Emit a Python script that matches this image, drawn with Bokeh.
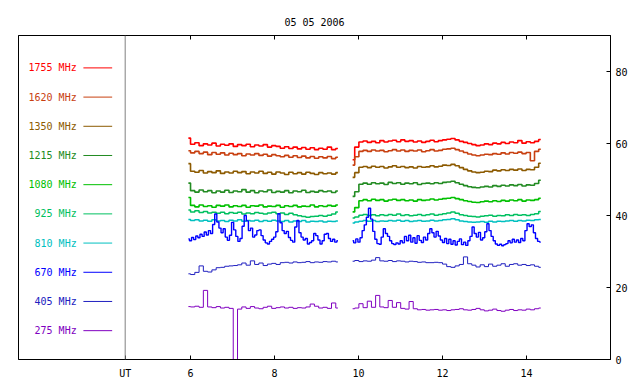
from bokeh.plotting import figure
from bokeh.models import Range1d, LinearAxis, FixedTicker, Span, ColumnDataSource
from bokeh.core.properties import value
from bokeh.embed import file_html
from bokeh.resources import INLINE
import numpy as np

# ---------------- data ----------------
title_text = "05 05 2006"
freq_labels = ["1755 MHz", "1620 MHz", "1350 MHz", "1215 MHz", "1080 MHz",
               "925 MHz", "810 MHz", "670 MHz", "405 MHz", "275 MHz"]
colors = ["#ff0000", "#c84010", "#8c5a00", "#228b22", "#00c000",
          "#00c060", "#00c0c0", "#0000ff", "#2020c0", "#8000c0"]

seg1_start, seg1_end = 5.95, 9.51
seg2_start, seg2_end = 9.86, 14.34

x_ticks = [6, 8, 10, 12, 14]
y_ticks = [0, 20, 40, 60, 80]
ut_pos = 4.445

s1755_a = [61.5, 59.8, 60.2, 59.4, 59.9, 59.6, 60.1, 59.3, 59.8, 59.5, 59.9, 59.2, 59.7, 59.4, 59.8, 59.1, 59.6, 59.3,
           59.7, 59.0, 59.4, 59.2, 58.7, 59.1, 58.6, 59.0, 58.5, 58.9, 58.4, 58.8, 58.3, 58.7, 58.4, 59.0, 58.3, 58.6]
s1755_b = [55.5, 59.0, 60.4, 60.7, 60.3, 60.6, 60.2, 60.8, 60.4, 60.7, 60.9, 60.5, 61.0, 60.6, 60.8, 60.4, 60.7, 60.3,
           60.6, 60.9, 60.5, 60.8, 61.0, 61.2, 61.4, 61.0, 60.6, 60.3, 60.0, 59.7, 59.4, 59.6, 59.9, 59.7, 60.1, 59.9,
           60.3, 60.0, 60.4, 60.2, 60.8, 60.1, 60.5, 60.2, 60.6, 61.1]

s1620_a = [58.0, 57.4, 57.8, 57.2, 57.6, 56.9, 57.5, 57.0, 57.4, 56.8, 57.3, 56.9, 57.2, 56.6, 57.1, 56.8, 57.2, 56.7,
           57.0, 56.5, 56.9, 56.6, 56.3, 56.7, 56.2, 56.6, 56.1, 56.5, 56.0, 56.4, 55.9, 56.3, 56.0, 56.4, 55.8, 56.2]
s1620_b = [54.0, 56.3, 57.8, 58.1, 57.8, 58.2, 57.9, 58.1, 57.7, 58.0, 58.3, 57.9, 58.2, 57.8, 58.1, 57.9, 58.2, 57.7,
           58.0, 58.3, 57.9, 58.1, 58.4, 58.5, 58.7, 58.3, 57.9, 57.5, 57.1, 56.8, 56.6, 56.8, 57.0, 56.9, 57.2, 57.0,
           57.4, 57.1, 57.5, 57.3, 57.6, 57.2, 57.5, 55.2, 57.8, 58.4]

s1350_a = [54.4, 52.3, 52.0, 52.5, 51.8, 52.2, 51.9, 52.4, 51.7, 52.1, 51.8, 52.3, 51.9, 52.2, 51.6, 52.1, 51.8, 52.3,
           51.7, 52.0, 51.5, 52.1, 51.8, 51.4, 52.0, 51.6, 51.9, 51.5, 52.0, 51.7, 51.4, 51.9, 51.6, 51.8, 51.5, 51.9]
s1350_b = [50.6, 51.9, 53.4, 53.6, 53.3, 53.7, 53.4, 53.6, 53.2, 53.5, 53.8, 53.4, 53.6, 53.3, 53.5, 53.2, 53.6, 53.4,
           53.5, 53.8, 53.5, 53.7, 54.0, 53.9, 54.2, 53.8, 53.3, 52.8, 52.4, 52.1, 51.9, 52.0, 52.3, 52.2, 52.6, 52.4,
           52.7, 52.5, 52.8, 52.6, 52.9, 52.5, 52.8, 52.7, 53.4, 54.5]

s1215_a = [49.0, 46.9, 46.5, 47.1, 46.6, 46.9, 46.3, 46.8, 46.5, 47.0, 46.4, 46.8, 46.6, 47.2, 46.5, 46.9, 46.3, 46.8,
           46.6, 47.1, 46.4, 46.7, 46.5, 46.9, 46.3, 46.8, 46.6, 47.0, 46.4, 46.7, 46.5, 46.9, 46.6, 46.8, 46.4, 46.8]
s1215_b = [45.3, 46.6, 48.7, 49.0, 48.7, 49.1, 48.8, 49.0, 48.6, 49.2, 48.9, 49.1, 48.7, 49.0, 48.8, 49.1, 48.6, 48.9,
           49.0, 48.8, 49.1, 48.9, 49.2, 49.3, 49.5, 49.1, 48.7, 48.3, 48.0, 47.8, 47.7, 47.9, 48.1, 47.9, 48.3, 48.1,
           48.4, 48.2, 48.5, 48.3, 48.6, 48.2, 48.5, 48.4, 48.9, 49.8]

s1080_a = [45.0, 42.8, 42.4, 42.9, 42.5, 42.7, 42.3, 42.8, 42.6, 42.9, 42.4, 42.7, 42.5, 42.8, 42.3, 42.7, 42.6, 42.9,
           42.4, 42.6, 42.5, 42.8, 42.3, 42.7, 42.5, 42.8, 42.4, 42.6, 42.5, 42.9, 42.4, 42.7, 42.5, 42.8, 42.6, 42.9]
s1080_b = [41.0, 42.2, 44.1, 44.4, 44.1, 44.5, 44.2, 44.4, 44.0, 44.3, 44.5, 44.2, 44.4, 44.1, 44.3, 44.0, 44.4, 44.2,
           44.3, 44.6, 44.3, 44.5, 44.7, 44.8, 45.0, 44.7, 44.4, 44.1, 43.9, 43.7, 43.6, 43.8, 44.0, 43.8, 44.1, 43.9,
           44.2, 44.0, 44.3, 44.1, 44.4, 44.0, 44.3, 44.2, 44.4, 44.8]

s925_a = [41.5, 41.0, 41.3, 40.8, 41.1, 40.7, 40.9, 40.6, 40.9, 40.5, 40.8, 40.6, 40.9, 40.4, 40.7, 40.5, 40.8, 40.6,
          40.4, 40.7, 40.9, 40.5, 40.7, 40.3, 40.6, 40.2, 39.9, 39.7, 39.5, 39.7, 39.8, 40.0, 39.8, 40.1, 40.4, 41.0]
s925_b = [39.3, 39.6, 40.1, 40.3, 40.0, 40.2, 39.9, 40.2, 40.0, 40.3, 40.1, 40.4, 40.0, 40.2, 39.9, 40.1, 40.3, 40.0,
          40.2, 40.4, 40.1, 40.3, 40.5, 40.7, 41.0, 40.6, 40.2, 40.0, 39.8, 39.7, 39.6, 39.8, 39.9, 40.1, 39.8, 40.0,
          39.9, 40.2, 40.0, 40.3, 40.1, 40.2, 40.0, 40.3, 40.5, 41.1]

s810_a = [38.9, 38.6, 38.8, 38.5, 38.7, 38.4, 38.8, 38.5, 38.6, 38.3, 38.7, 38.5, 38.8, 38.4, 38.6, 38.5, 38.7, 38.3,
          38.6, 38.4, 38.7, 38.5, 38.3, 38.6, 38.2, 38.5, 38.3, 38.6, 38.2, 38.4, 38.3, 38.5, 38.2, 38.4, 38.3, 38.5]
s810_b = [37.9, 38.2, 38.4, 38.6, 38.4, 38.6, 38.3, 38.5, 38.4, 38.6, 38.5, 38.7, 38.4, 38.6, 38.3, 38.5, 38.6, 38.4,
          38.5, 38.7, 38.5, 38.6, 38.8, 38.9, 39.1, 38.8, 38.5, 38.3, 38.2, 38.1, 38.2, 38.3, 38.1, 38.4, 38.2, 38.4,
          38.3, 38.5, 38.6, 38.4, 38.6, 38.5, 38.7, 38.6, 38.8, 38.9]

s670_a = [33.5, 33.0, 33.9, 33.3, 34.3, 33.8, 34.8, 34.2, 35.4, 34.6, 35.8, 35.0, 37.5, 40.4, 38.2, 36.5, 35.2, 36.3,
          34.0, 33.1, 34.5, 38.1, 36.0, 34.2, 32.8, 33.6, 37.0, 40.0, 38.5, 35.8, 36.5, 34.0, 34.6, 35.8, 36.0, 34.4,
          33.2, 32.4, 32.1, 32.8, 33.4, 34.0, 35.5, 40.5, 38.0, 35.8, 35.0, 35.6, 33.9, 33.1, 32.6, 36.8, 38.6, 35.2,
          34.0, 33.2, 33.6, 32.1, 32.5, 33.0, 35.0, 34.4, 33.2, 32.1, 33.0, 34.8, 35.0, 33.6, 32.8, 33.4, 32.6, 33.0]
s670_b = [33.0, 32.4, 33.5, 32.6, 33.8, 35.8, 37.4, 39.5, 42.0, 39.0, 35.6, 33.4, 32.2, 32.0, 34.0, 36.3, 35.0, 34.2,
          33.0, 32.2, 31.9, 32.4, 32.1, 33.0, 32.4, 34.2, 33.0, 34.5, 32.6, 33.8, 32.3, 34.4, 33.1, 32.5, 34.0, 33.2,
          35.0, 36.3, 35.2, 34.0, 35.6, 34.3, 33.2, 32.5, 33.6, 32.2, 33.4, 32.0, 33.0, 31.8, 32.8, 33.5, 31.9, 32.6,
          31.7, 33.0, 34.2, 36.8, 35.0, 34.0, 35.3, 33.2, 33.8, 35.5, 37.7, 35.8, 34.2, 33.0, 32.1, 31.7, 32.0, 31.6,
          31.9, 32.2, 33.0, 32.4, 33.4, 32.6, 33.2, 32.5, 33.6, 33.0, 35.8, 37.7, 36.9, 37.4, 35.2, 33.6, 32.8, 32.6]

s405_a = [23.8, 23.6, 24.2, 26.0, 24.5, 24.3, 24.9, 25.5, 25.6, 25.9, 26.0, 26.1, 26.3, 26.8, 26.2, 27.4, 26.4, 26.8,
          26.1, 26.5, 26.7, 26.4, 26.9, 27.0, 26.8, 27.1, 26.9, 27.0, 27.2, 26.9, 27.1, 27.0, 27.2, 27.1, 27.3, 27.1]
s405_b = [27.3, 27.5, 27.2, 27.4, 27.3, 27.6, 28.3, 27.4, 27.3, 27.5, 27.2, 27.4, 27.3, 27.1, 27.3, 27.2, 27.0, 27.1,
          26.9, 26.9, 27.0, 26.9, 26.5, 25.8, 25.6, 26.0, 26.4, 28.5, 26.6, 26.2, 25.7, 26.3, 25.8, 26.5, 25.9, 26.2,
          26.6, 25.9, 26.4, 26.6, 26.2, 26.4, 26.1, 26.3, 25.9, 25.6]

s275_a = [14.7, 14.6, 14.8, 14.5, 19.2, 14.6, 14.4, 14.7, 14.3, 14.5, 14.2, -2.0, 14.0, 14.6, 14.2, 14.7, 14.3, 14.1,
          14.5, 14.8, 14.2, 14.4, 14.6, 14.3, 14.5, 14.2, 14.4, 14.3, 14.6, 15.4, 14.8, 14.3, 14.5, 14.2, 15.7, 14.3]
s275_b = [14.1, 14.3, 15.5, 14.4, 16.2, 14.5, 17.8, 14.6, 14.4, 16.4, 14.5, 15.8, 14.2, 14.0, 16.1, 14.1, 13.8, 13.9,
          13.7, 13.8, 13.9, 13.7, 13.8, 13.6, 13.8, 13.9, 14.1, 13.8, 13.7, 13.9, 14.2, 13.8, 13.5, 13.7, 14.0, 13.6,
          13.4, 13.7, 13.9, 13.6, 13.8, 13.7, 14.0, 13.8, 14.1, 14.3]

series_a = [s1755_a, s1620_a, s1350_a, s1215_a, s1080_a, s925_a, s810_a, s670_a, s405_a, s275_a]
series_b = [s1755_b, s1620_b, s1350_b, s1215_b, s1080_b, s925_b, s810_b, s670_b, s405_b, s275_b]

# ---------------- layout / style constants ----------------
FONT = "DejaVu Sans Mono"
X0, X1 = 1.905, 16.0
Y0, Y1 = 0.0, 90.0
legend_top, legend_step = 81.0, 8.11
legend_text_x = 3.29
legend_line_x0, legend_line_x1 = 3.45, 4.135
widths = [1.6, 1.6, 1.6, 1.6, 1.6, 1.5, 1.5, 1.4, 1.0, 1.0]

p = figure(x_range=Range1d(X0, X1), y_range=Range1d(Y0, Y1),
           frame_width=592, frame_height=324,
           min_border_left=18, min_border_right=22, min_border_top=35, min_border_bottom=22,
           x_axis_location="below", y_axis_location="right",
           toolbar_location=None, output_backend="svg", title=title_text)

p.background_fill_color = "white"
p.border_fill_color = "white"
p.outline_line_color = "black"
p.outline_line_alpha = 1.0
p.outline_line_width = 1
p.xgrid.visible = False
p.ygrid.visible = False

p.title.align = "center"
p.title.text_font = FONT
p.title.text_font_size = "10px"
p.title.text_font_style = "normal"
p.title.text_color = "black"
p.title.standoff = 16

# bottom axis
xa = p.xaxis[0]
xa.ticker = FixedTicker(ticks=[ut_pos] + x_ticks)
xa.major_label_overrides = {ut_pos: "UT"}
# right axis
ya = p.yaxis[0]
ya.ticker = FixedTicker(ticks=y_ticks)

for ax in (xa, ya):
    ax.major_tick_in = 4
    ax.major_tick_out = 0
    ax.minor_tick_in = 0
    ax.minor_tick_out = 0
    ax.axis_line_color = "black"
    ax.major_tick_line_color = "black"
    ax.major_label_text_font = FONT
    ax.major_label_text_font_size = "10px"
    ax.major_label_text_color = "black"
xa.major_label_standoff = 8
ya.major_label_standoff = 5

# top axis: ticks only
top = LinearAxis(ticker=FixedTicker(ticks=x_ticks),
                 major_label_overrides={t: "" for t in x_ticks},
                 major_label_text_font_size="0px", major_label_standoff=0,
                 major_tick_in=4, major_tick_out=0, minor_tick_in=0, minor_tick_out=0,
                 axis_line_color="black")
p.add_layout(top, "above")

# separator line between legend and data
p.add_layout(Span(location=ut_pos, dimension="height", line_color="#808080", line_width=1))

# series
for vals_a, vals_b, col, lw in zip(series_a, series_b, colors, widths):
    ta = np.linspace(seg1_start, seg1_end, len(vals_a))
    tb = np.linspace(seg2_start, seg2_end, len(vals_b))
    p.step(ta, vals_a, mode="center", line_color=col, line_width=lw)
    p.step(tb, vals_b, mode="center", line_color=col, line_width=lw)

# custom legend (label left, line sample right)
n = len(freq_labels)
ly = [legend_top - i * legend_step for i in range(n)]
leg = ColumnDataSource(dict(
    y=ly, label=freq_labels, color=colors,
    tx=[legend_text_x] * n, x0=[legend_line_x0] * n, x1=[legend_line_x1] * n))
p.text(x="tx", y="y", text="label", text_color="color", source=leg,
       text_align="right", text_baseline="middle",
       text_font=value(FONT), text_font_size="10px")
p.segment(x0="x0", y0="y", x1="x1", y1="y", line_color="color", line_width=1, source=leg)

open("out.html", "w").write(file_html(p, INLINE))
